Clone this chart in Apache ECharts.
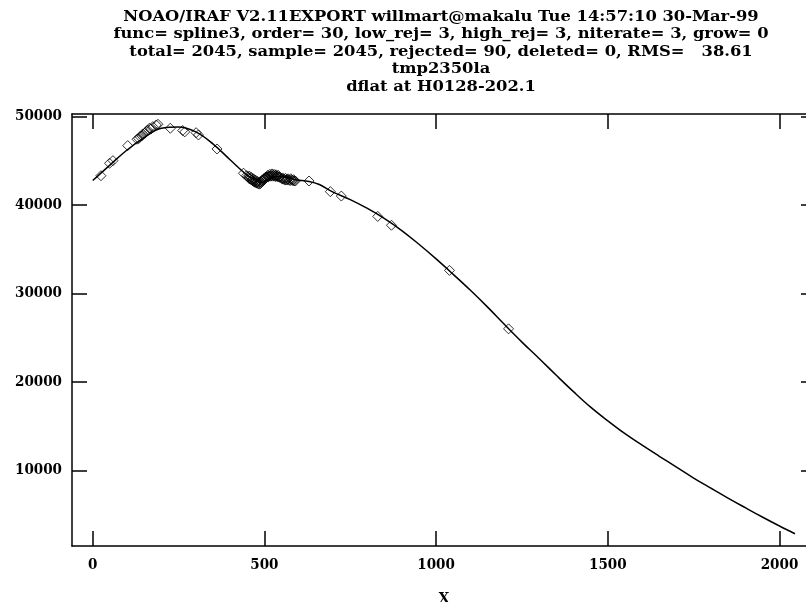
<!DOCTYPE html>
<html>
<head>
<meta charset="utf-8">
<script src="https://cdn.jsdelivr.net/npm/echarts@6/dist/echarts.min.js"></script>
<style>
html, body { margin: 0; padding: 0; background: #fff; }
#main { width: 806px; height: 602px; }
</style>
</head>
<body>
<div id="main"></div>
<script>
var titleLines = [
    'NOAO/IRAF V2.11EXPORT willmart@makalu Tue 14:57:10 30-Mar-99',
    'func= spline3, order= 30, low_rej= 3, high_rej= 3, niterate= 3, grow= 0',
    'total= 2045, sample= 2045, rejected= 90, deleted= 0, RMS=   38.61',
    'tmp2350la',
    'dflat at H0128-202.1'
]
var xTicks = [0, 500, 1000, 1500, 2000]
var yTicks = [10000, 20000, 30000, 40000, 50000]

// fitted curve
var fitX = [0, 50, 100, 150, 200, 250, 300, 350, 400, 450, 470, 490, 510, 530, 560, 590, 630, 660, 700,
            750, 800, 850, 900, 950, 1000, 1050, 1100, 1150, 1200, 1250, 1300, 1350, 1400, 1450, 1500,
            1550, 1600, 1650, 1700, 1750, 1800, 1850, 1900, 1950, 2000, 2045]
var fitY = [42750, 44500, 46200, 47600, 48650, 48800, 48250, 46900, 45100, 43350, 42900, 42500, 42900, 43200, 43150, 42850, 42650, 42300, 41450,
            40600, 39600, 38450, 37100, 35550, 33900, 32150, 30350, 28450, 26450, 24500, 22650, 20750, 18900, 17150, 15600,
            14150, 12850, 11600, 10370, 9140, 8000, 6880, 5800, 4740, 3720, 2853]

// rejected points (diamonds)
var rejX = [24, 49, 59, 102, 129, 134, 138, 143, 146, 152, 156, 160, 165, 170, 175, 185, 190,
            226, 262, 268, 301, 308, 362, 439,
            448, 452, 455, 458, 461, 464, 467, 470, 473, 476, 479, 482, 485, 488, 491, 494, 497, 500,
            503, 506, 509, 512, 515, 518, 521, 524, 527, 530, 533, 536, 539, 542, 545,
            551, 555, 559, 563, 567, 571, 575, 579, 583, 587, 590,
            456, 462, 468, 474, 480, 486, 492, 498, 504, 510, 516, 522, 528, 534, 540,
            553, 561, 569, 577, 585,
            630, 692, 724, 830, 870, 1039, 1211]
var rejY = [43300, 44700, 45000, 46700, 47420, 47500, 47710, 47800, 48020, 48100, 48280, 48450, 48660, 48600, 48840, 49030, 49110,
            48660, 48400, 48250, 48160, 47900, 46320, 43580,
            43300, 43200, 43000, 42950, 42850, 42800, 42700, 42600, 42550, 42500, 42450, 42400, 42350, 42400, 42550, 42650, 42800, 42900,
            43000, 43100, 43150, 43200, 43250, 43250, 43300, 43250, 43300, 43250, 43200, 43250, 43200, 43150, 43100,
            42950, 42900, 42850, 42800, 42850, 42800, 42750, 42800, 42750, 42700, 42700,
            43250, 43100, 42950, 42800, 42650, 42600, 42750, 42950, 43150, 43350, 43450, 43500, 43450, 43400, 43350,
            43050, 43000, 42950, 42950, 42850,
            42700, 41500, 41000, 38700, 37700, 32600, 26000]

var FONT = '"DejaVu Serif Condensed", "DejaVu Serif", serif'

function zip(a, b) {
    var out = []
    for (var i = 0; i < a.length; i++) out.push([a[i], b[i]])
    return out
}

function axisStyle(pos, ticks, showLabel) {
    return {
        type: 'value',
        position: pos,
        splitLine: { show: false },
        axisLine: { show: true, onZero: false, lineStyle: { color: '#000', width: 1.5 } },
        axisTick: { show: true, inside: true, length: 15, customValues: ticks, lineStyle: { color: '#000', width: 1.5 } },
        minorTick: { show: false },
        axisLabel: {
            show: showLabel, customValues: ticks, color: '#000',
            fontFamily: FONT, fontSize: 15, fontWeight: 'bold', margin: 10,
            formatter: function (v) { return String(v) }
        }
    }
}

var xBottom = axisStyle('bottom', xTicks, true)
xBottom.min = -60.3; xBottom.max = 2106.3
xBottom.name = 'X'
xBottom.nameLocation = 'middle'
xBottom.nameGap = 46
xBottom.nameTextStyle = { color: '#000', fontFamily: FONT, fontSize: 15, fontWeight: 'bold' }
xBottom.axisLabel.margin = 12
var xTop = axisStyle('top', xTicks, false)
xTop.min = -60.3; xTop.max = 2106.3

var yLeft = axisStyle('left', yTicks, true)
yLeft.min = 1464; yLeft.max = 50270
var yRight = axisStyle('right', yTicks, false)
yRight.min = 1464; yRight.max = 50270

// title block: condensed serif stretched a little sideways, like the IRAF plot font
var graphics = []
for (var i = 0; i < titleLines.length; i++) {
    graphics.push({
        type: 'text', x: 441, y: 17 + i * 17.5, scaleX: 1.21,
        style: { text: titleLines[i], fill: '#000', font: 'bold 15px ' + FONT, align: 'center', verticalAlign: 'middle' }
    })
}

var myChart = echarts.init(document.getElementById('main'))
var option = {
    animation: false,
    backgroundColor: '#fff',
    grid: { left: 72, right: -10, top: 114, bottom: 56, outerBoundsMode: 'none', containLabel: false },
    xAxis: [xBottom, xTop],
    yAxis: [yLeft, yRight],
    graphic: graphics,
    series: [
        {
            type: 'line', data: zip(fitX, fitY), showSymbol: false, symbol: 'none', smooth: 0.4,
            lineStyle: { color: '#000', width: 1.5 }
        },
        {
            type: 'scatter', data: zip(rejX, rejY), symbol: 'diamond', symbolSize: [10, 10],
            itemStyle: { color: 'rgba(0,0,0,0)', borderColor: '#000', borderWidth: 1 }
        }
    ]
}
myChart.setOption(option)
</script>
</body>
</html>
